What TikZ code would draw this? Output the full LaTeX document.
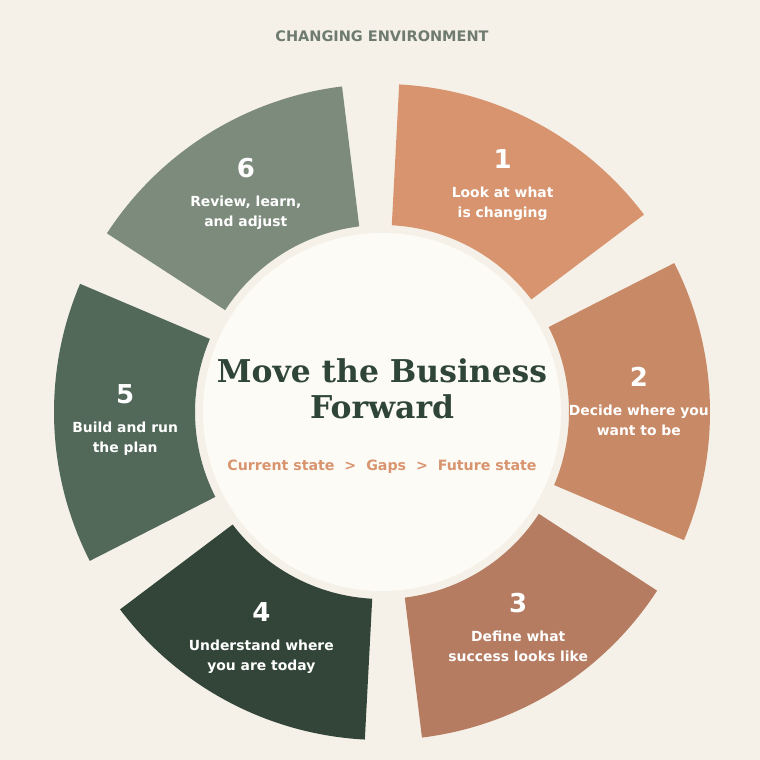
\documentclass[tikz,border=0pt]{standalone}
\usepackage{fontspec}
\setmainfont{DejaVu Sans}
\newfontfamily\headfont{DejaVu Serif}
\definecolor{paper}{HTML}{F5F1E8}
\definecolor{disc}{HTML}{FDFBF5}
\definecolor{sage}{HTML}{6E7B6E}
\definecolor{pine}{HTML}{2F4538}
\definecolor{clay}{HTML}{D8946F}
\definecolor{segA}{HTML}{D8946F}
\definecolor{segB}{HTML}{C88966}
\definecolor{segC}{HTML}{B57C62}
\definecolor{segD}{HTML}{324538}
\definecolor{segE}{HTML}{52695A}
\definecolor{segF}{HTML}{7C8B7C}
\tikzset{
  num/.style={text=white,font=\bfseries\fontsize{26}{26}\selectfont,anchor=base,inner sep=0pt},
  desc/.style={text=white,font=\bfseries\fontsize{13.9}{20}\selectfont,align=center,anchor=base,inner sep=0pt},
}
\begin{document}
\begin{tikzpicture}[x=1pt,y=1pt]
\fill[paper](0,0)rectangle(760,760);
\useasboundingbox(0,0)rectangle(760,760);
\node[text=sage,font=\bfseries\fontsize{14.5}{14.5}\selectfont,anchor=base,inner sep=0pt](head)at(382,718){CHANGING ENVIRONMENT};
%
\begin{scope}[shift={(382,348)}]
\fill[segA](37:328)arc[start angle=37,end angle=87,radius=328]--(87:187)arc[start angle=87,end angle=37,radius=187]--cycle;
\fill[segB](-23:328)arc[start angle=-23,end angle=27,radius=328]--(27:187)arc[start angle=27,end angle=-23,radius=187]--cycle;
\fill[segC](-83:328)arc[start angle=-83,end angle=-33,radius=328]--(-33:187)arc[start angle=-33,end angle=-83,radius=187]--cycle;
\fill[segD](-143:328)arc[start angle=-143,end angle=-93,radius=328]--(-93:187)arc[start angle=-93,end angle=-143,radius=187]--cycle;
\fill[segE](157:328)arc[start angle=157,end angle=207,radius=328]--(207:187)arc[start angle=207,end angle=157,radius=187]--cycle;
\fill[segF](97:328)arc[start angle=97,end angle=147,radius=328]--(147:187)arc[start angle=147,end angle=97,radius=187]--cycle;
\fill[disc](0,0)circle(179);
%
\node[num,yshift=17](n1)at(62:257){1};
\node[desc,yshift=-32](t1)at(62:257){Look at what\\is changing};
\node[num,yshift=17](n2)at(2:257){2};
\node[desc,yshift=-32](t2)at(2:257){Decide where you\\want to be};
\node[num,yshift=17](n3)at(-58:257){3};
\node[desc,yshift=-32](t3)at(-58:257){Define what\\success looks like};
\node[num,yshift=17](n4)at(-118:257){4};
\node[desc,yshift=-32](t4)at(-118:257){Understand where\\you are today};
\node[num,yshift=17](n5)at(182:257){5};
\node[desc,yshift=-32](t5)at(182:257){Build and run\\the plan};
\node[num,yshift=17](n6)at(122:257){6};
\node[desc,yshift=-32](t6)at(122:257){Review, learn,\\and adjust};
%
\node[text=pine,font=\headfont\bfseries\fontsize{31.4}{36}\selectfont,align=center,anchor=base,inner sep=0pt](core)at(0,-6.5){Move the Business\\Forward};
\node[text=clay,font=\bfseries\fontsize{14.2}{14.2}\selectfont,anchor=base,inner sep=0pt](path)at(0,-59){Current state\ \ >\ \ Gaps\ \ >\ \ Future state};
\end{scope}
\end{tikzpicture}
\end{document}
